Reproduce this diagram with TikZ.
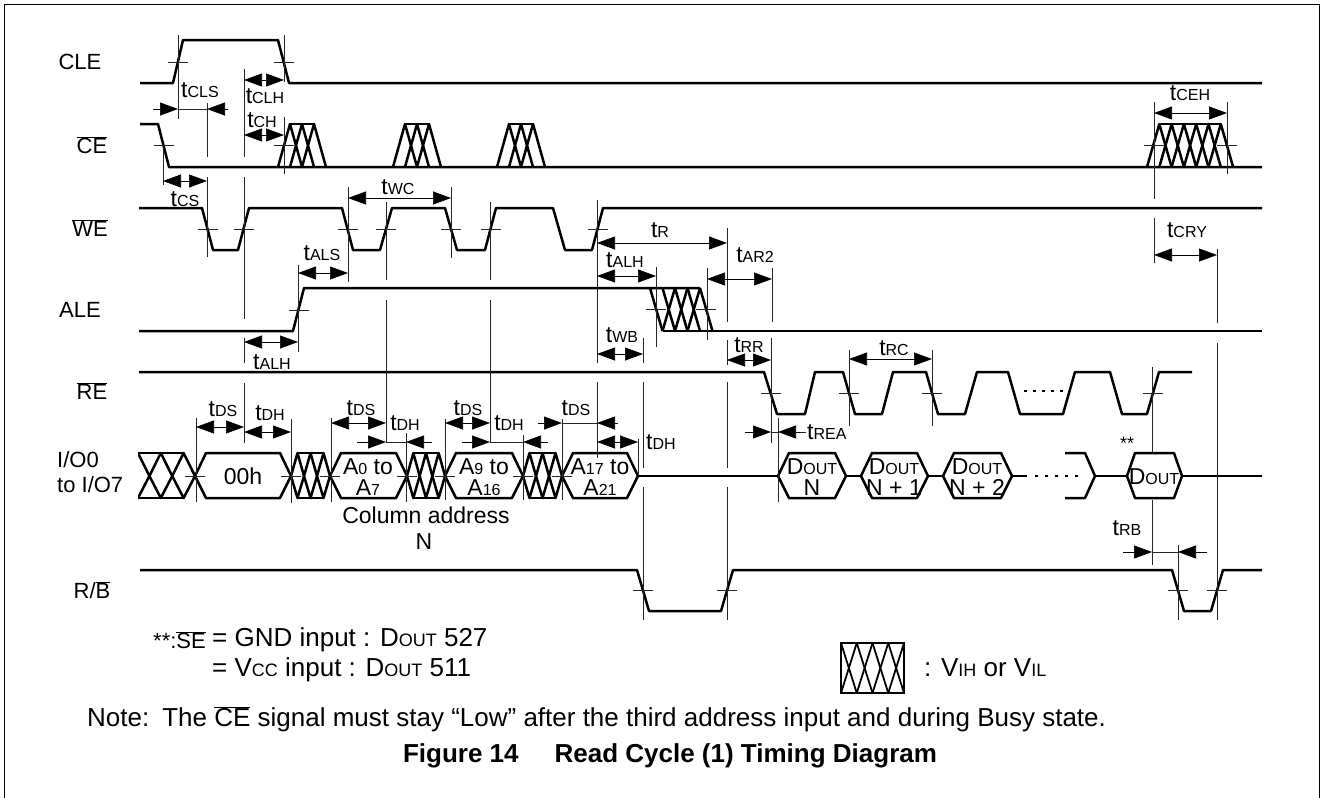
\documentclass[tikz,border=0pt]{standalone}
\usepackage{fontspec}
\setmainfont{Liberation Sans}
\usetikzlibrary{arrows.meta}

\newcommand{\sm}[1]{{\fontsize{16}{16}\selectfont #1}}
\newcommand{\smb}[1]{{\fontsize{18}{18}\selectfont #1}}
\newcommand{\tm}[1]{t\sm{#1}}
\newcommand{\ovl}[1]{$\overline{\mbox{#1}}$}
\newcommand{\vref}[3]{\draw[refl] (#1,#2) -- (#1,#3);}
\newcommand{\tck}[2]{\draw[refl] ({#1-10},#2) -- ({#1+10},#2);}
\newcommand{\dimout}[5]{%
 \draw[dimt] (#1,#5) -- (#2,#5);
 \draw[refl] (#2,#5) -- (#3,#5);
 \draw[dimt] (#4,#5) -- (#3,#5);}
\newcommand{\cehatch}[5]{%
 \foreach \k in {1,...,#2}
  {\draw[sig] ({#1+(\k-1)*#3},#5) -- ({#1+\k*#3},#4) -- ({#1+(\k+1)*#3},#5);}
 \draw[sig] ({#1+#3},#4) -- ({#1+#2*#3},#4);}
\newcommand{\busx}[3]{%
 \pgfmathsetmacro{\cw}{(#2-#1)/#3}
 \foreach \j in {1,...,#3}
  {\draw[sig] ({#1+(\j-1)*\cw},476) -- ({#1+(\j-0.5)*\cw},453) -- ({#1+\j*\cw},476) -- ({#1+(\j-0.5)*\cw},498) -- cycle;}
 \draw[sig] ({#1+0.5*\cw},453) -- ({#2-0.5*\cw},453);
 \draw[sig] ({#1+0.5*\cw},498) -- ({#2-0.5*\cw},498);}
\newcommand{\hexa}[3]{\draw[sig] (#1,476) -- ({#1+#3},453) -- ({#2-#3},453) -- (#2,476) -- ({#2-#3},498) -- ({#1+#3},498) -- cycle;}

\tikzset{
 sig/.style={line width=2.5pt,line join=round},
 refl/.style={line width=0.7pt,black!85},
 dimr/.style={line width=0.7pt,{Triangle[length=18pt,width=13pt]}-{Triangle[length=18pt,width=13pt]}},
 dimt/.style={line width=0.7pt,-{Triangle[length=18pt,width=13pt]}},
 lab/.style={font=\fontsize{22}{24}\selectfont,inner sep=0pt},
 tlab/.style={font=\fontsize{23}{24}\selectfont,inner sep=0pt},
 hlab/.style={font=\fontsize{23}{21}\selectfont,inner sep=0pt,align=center},
 txt/.style={font=\fontsize{26}{28}\selectfont,inner sep=0pt,anchor=west},
}

\begin{document}
\begin{tikzpicture}[x=1pt,y=-1pt]
\useasboundingbox (0,0) rectangle (1323,798);
\draw[line width=1pt] (4,798) -- (4,4) -- (1319,4) -- (1319,798);

% signal names
\node[lab] (cle) at (80,62) {CLE};
\node[lab] (ce) at (92,145) {\ovl{CE}};
\node[lab] (we) at (90,228) {\ovl{WE}};
\node[lab] (ale) at (80,310) {ALE};
\node[lab] (re) at (92,391) {\ovl{RE}};
\node[lab,anchor=west] (io0) at (57,460) {I/O0};
\node[lab,anchor=west] (io7) at (57,485) {to I/O7};
\node[lab] (rb) at (92,590) {R/\ovl{B}};

% CLE
\draw[sig] (140,83) -- (173,83) -- (183,40) -- (278,40) -- (289,83) -- (1262,83);
% CE
\draw[sig] (140,124) -- (158,124) -- (169,167) -- (1262,167);
\cehatch{278}{3}{12}{124}{167}
\cehatch{393}{3}{12}{124}{167}
\cehatch{497}{3}{12}{124}{167}
\cehatch{1147}{6}{12.3}{124}{167}
% WE
\draw[sig] (139,208) -- (202,208) -- (213,250) -- (238,250) -- (249,208) -- (342,208) -- (353,250)
 -- (380,250) -- (392,208) -- (445,208) -- (457,250) -- (485,250) -- (496,208) -- (553,208)
 -- (565,250) -- (592,250) -- (603,208) -- (1262,208);
% ALE
\draw[sig] (139,331) -- (293,331) -- (304,288) -- (700,288);
\draw[sig] (662.5,331) -- (1262,331);
\foreach \k in {0,...,4} {\draw[sig] ({650+12.5*\k},288) -- ({662.5+12.5*\k},331);}
\foreach \k in {1,2,3} {\draw[sig] ({650+12.5*\k},331) -- ({662.5+12.5*\k},288);}
% RE
\draw[sig] (139,372) -- (764,372) -- (777,414) -- (805,414) -- (815,372) -- (843,372) -- (855,414)
 -- (882,414) -- (893,372) -- (926,372) -- (938,414) -- (965,414) -- (977,372) -- (1008,372)
 -- (1020,414) -- (1063,414) -- (1075,372) -- (1110,372) -- (1122,414) -- (1147,414)
 -- (1159,372) -- (1192,372);
\draw[line width=2pt,dash pattern=on 3pt off 6pt] (1024,391) -- (1063,391);
% I/O bus
\begin{scope}
 \clip (138,440) rectangle (196,510);
 \busx{126.6}{195}{3}
\end{scope}
\draw[sig] (138,453) -- (184,453);
\draw[sig] (138,498) -- (184,498);
\hexa{195}{291}{11}
\busx{291}{330}{3}
\hexa{330}{407}{11}
\busx{407}{445}{3}
\hexa{445}{523}{11}
\busx{523}{562}{3}
\hexa{562}{638}{11}
\draw[sig] (638,476) -- (778,476);
\hexa{778}{846}{11}
\draw[sig] (846,476) -- (861,476);
\hexa{861}{928}{11}
\draw[sig] (928,476) -- (943,476);
\hexa{943}{1012}{11}
\draw[sig] (1012,476) -- (1027,476);
\draw[line width=2.2pt,dash pattern=on 3pt off 7pt] (1035,476) -- (1078,476);
\draw[sig] (1065,453) -- (1085,453) -- (1095,476) -- (1085,498) -- (1065,498);
\draw[sig] (1095,476) -- (1127,476);
\hexa{1127}{1182}{8}
\draw[sig] (1182,476) -- (1262,476);
% R/B
\draw[sig] (140,570) -- (637,570) -- (649,611) -- (721,611) -- (733,570) -- (1172,570)
 -- (1184,611) -- (1211,611) -- (1223,570) -- (1262,570);

% bus texts
\node[hlab] (h00) at (243,476) {00h};
\node[hlab] (a0) at (368,477) {A\sm{0} to\\A\sm{7}};
\node[hlab] (a9) at (484,477) {A\sm{9} to\\A\sm{16}};
\node[hlab] (a17) at (600,477) {A\sm{17} to\\A\sm{21}};
\node[hlab] (don) at (812,477) {D\sm{OUT}\\N};
\node[hlab] (don1) at (894,477) {D\sm{OUT}\\N + 1};
\node[hlab] (don2) at (977,477) {D\sm{OUT}\\N + 2};
\node[hlab] (dlast) at (1154,477) {D\sm{OUT}};
\node[font=\fontsize{18}{18}\selectfont,inner sep=0pt] (star) at (1127,443) {**};
\node[hlab] (coladdr) at (426,515) {Column address};
\node[hlab] (coln) at (424,542) {N};

% crossing ticks
\foreach \x in {178,283.5} {\tck{\x}{62}}
\foreach \x in {163.5,284,1154,1227} {\tck{\x}{145}}
\foreach \x in {207.5,243.5,347.5,386,451,490.5,597.5} {\tck{\x}{229}}
\tck{298.5}{310}
\foreach \x in {656,706} {\tck{\x}{309}}
\foreach \x in {770.5,849,932,1153} {\tck{\x}{393}}
\foreach \x in {195,291,330,407,445,523,562} {\tck{\x}{476}}
\foreach \x in {643,727,1178,1217} {\tck{\x}{590.5}}

% reference lines
\vref{178}{35}{119}
\vref{284}{35}{82} \vref{284}{117}{174}
\vref{207}{103}{157} \vref{207}{177}{257}
\vref{163}{147}{185}
\vref{244}{69}{157} \vref{244}{177}{319} \vref{244}{338}{363} \vref{244}{383}{443}
\vref{298}{265}{352}
\vref{348}{187}{282}
\vref{386}{202}{280} \vref{386}{300}{443}
\vref{451}{187}{258}
\vref{490}{202}{280} \vref{490}{300}{443}
\vref{597}{200}{363} \vref{597}{382}{458}
\vref{643}{338}{363} \vref{643}{382}{468} \vref{643}{487}{620}
\vref{656}{267}{347}
\vref{707}{268}{340}
\vref{727}{228}{322} \vref{727}{340}{365} \vref{727}{382}{468} \vref{727}{487}{620}
\vref{772}{268}{322}
\vref{771}{338}{443}
\vref{778}{418}{502}
\vref{849}{350}{426}
\vref{932}{350}{426}
\vref{196}{418}{502} \vref{291}{419}{503} \vref{331}{418}{502} \vref{406}{433}{502}
\vref{445}{419}{500} \vref{523}{435}{500} \vref{562}{419}{500} \vref{638}{439}{476}
\vref{1152}{367}{452} \vref{1152}{500}{565}
\vref{1154}{102}{199} \vref{1154}{218}{263}
\vref{1178}{545}{620}
\vref{1217}{249}{323} \vref{1217}{343}{620}
\vref{1227}{102}{174}

% timing arrows
\dimout{153}{178}{207}{228}{109}
\draw[dimr] (244,80) -- (284,80);
\draw[dimr] (244,135) -- (284,135);
\draw[dimr] (163,181) -- (207,181);
\draw[dimr] (348,198) -- (451,198);
\draw[dimr] (298,273) -- (348,273);
\draw[dimr] (244,342) -- (298,342);
\draw[dimr] (597,243) -- (727,243);
\draw[dimr] (597,276) -- (656,276);
\draw[dimr] (707,279) -- (772,279);
\draw[dimr] (597,354) -- (643,354);
\draw[dimr] (727,360) -- (771,360);
\draw[dimr] (849,359) -- (932,359);
\dimout{745}{771}{778}{800}{432}
\draw[refl] (800,432) -- (806,432);
\draw[dimr] (1154,113) -- (1227,113);
\draw[dimr] (1154,255) -- (1217,255);
\dimout{1123}{1152}{1178}{1207}{552}
\draw[dimr] (196,427) -- (244,427);
\draw[dimr] (244,432) -- (291,432);
\draw[dimr] (331,423) -- (386,423);
\dimout{357}{386}{406}{432}{442}
\draw[dimr] (445,423) -- (490,423);
\dimout{462}{490}{523}{548}{442}
\dimout{538}{562}{597}{618}{423}
\draw[dimr] (597,442) -- (638,442);

% timing labels
\node[tlab] (tcls) at (200,90) {\tm{CLS}};
\node[tlab] (tclh) at (265,96) {\tm{CLH}};
\node[tlab] (tch) at (262,120) {\tm{CH}};
\node[tlab] (tcs) at (185,199) {\tm{CS}};
\node[tlab] (twc) at (398,187) {\tm{WC}};
\node[tlab] (tals) at (322,253) {\tm{ALS}};
\node[tlab] (talha) at (272,362) {\tm{ALH}};
\node[tlab] (tr) at (660,230) {\tm{R}};
\node[tlab] (talhb) at (625,260) {\tm{ALH}};
\node[tlab] (tar) at (755,255) {\tm{AR2}};
\node[tlab] (twb) at (622,335) {\tm{WB}};
\node[tlab] (trr) at (749,345) {\tm{RR}};
\node[tlab] (trc) at (894,348) {\tm{RC}};
\node[tlab,anchor=west] (trea) at (807,432) {\tm{REA}};
\node[tlab] (tceh) at (1190,93) {\tm{CEH}};
\node[tlab] (tcry) at (1187,230) {\tm{CRY}};
\node[tlab] (trb) at (1127,528) {\tm{RB}};
\node[tlab] (tdsa) at (223,409) {\tm{DS}};
\node[tlab] (tdha) at (270,413) {\tm{DH}};
\node[tlab] (tdsb) at (361,408) {\tm{DS}};
\node[tlab] (tdhb) at (405,423) {\tm{DH}};
\node[tlab] (tdsc) at (468,408) {\tm{DS}};
\node[tlab] (tdhc) at (509,423) {\tm{DH}};
\node[tlab] (tdsd) at (576,408) {\tm{DS}};
\node[tlab,anchor=west] (tdhd) at (646,442) {\tm{DH}};

% footnote, legend, note
\node[txt,anchor=east,font=\fontsize{22}{24}\selectfont] (fnstar) at (206,640) {**:\ovl{SE}};
\node[txt] (fngnd) at (212,640) {= GND input : D\smb{OUT} 527};
\node[txt] (fnvcc) at (212,670) {= V\smb{CC} input : D\smb{OUT} 511};
\draw[line width=2pt] (841,643) rectangle (904,693);
\foreach \j in {0,...,3} {
 \draw[line width=1.8pt] ({841+15.75*\j},643) -- ({841+15.75*(\j+1)},693);
 \draw[line width=1.8pt] ({841+15.75*\j},693) -- ({841+15.75*(\j+1)},643);
}
\node[txt] (leg) at (924,668) {: V\smb{IH} or V\smb{IL}};
\node[txt] (note) at (87,719) {Note:\enspace The \ovl{CE} signal must stay “Low” after the third address input and during Busy state.};
\node[font=\bfseries\fontsize{26}{28}\selectfont,inner sep=0pt] (cap) at (670,756) {Figure 14\hspace{36pt}Read Cycle (1) Timing Diagram};
\end{tikzpicture}
\end{document}
